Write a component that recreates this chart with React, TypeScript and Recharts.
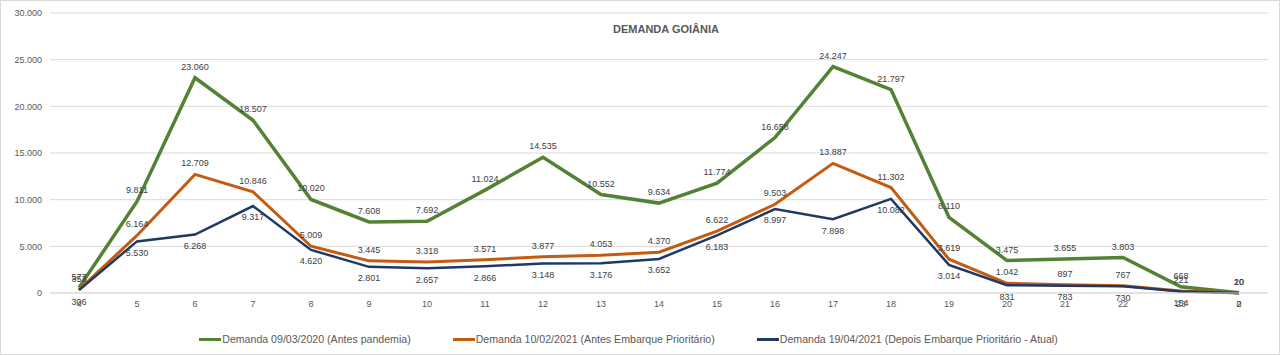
import React from 'react';
import { LineChart, Line, XAxis, YAxis, CartesianGrid, Legend, LabelList } from 'recharts';

const hours = ['4', '5', '6', '7', '8', '9', '10', '11', '12', '13', '14', '15', '16', '17', '18', '19', '20', '21', '22', '23', '0'];
const antesPandemia = [577, 9811, 23060, 18507, 10020, 7608, 7692, 11024, 14535, 10552, 9634, 11774, 16658, 24247, 21797, 8110, 3475, 3655, 3803, 668, 20];
const antesEmbarque = [353, 6164, 12709, 10846, 5009, 3445, 3318, 3571, 3877, 4053, 4370, 6622, 9503, 13887, 11302, 3619, 1042, 897, 767, 221, 10];
const depoisEmbarque = [306, 5530, 6268, 9317, 4620, 2801, 2657, 2866, 3148, 3176, 3652, 6183, 8997, 7898, 10082, 3014, 831, 783, 730, 154, 2];
const yTicks = [0, 5000, 10000, 15000, 20000, 25000, 30000];

const data = hours.map((h, i) => ({
  hora: h,
  a: antesPandemia[i],
  b: antesEmbarque[i],
  c: depoisEmbarque[i],
}));

const FONT = '"Liberation Sans", Arial, sans-serif';
const fmt = (v: any) => String(v).replace(/\B(?=(\d{3})+(?!\d))/g, '.');
const labelStyle = { fill: '#404040', fontSize: 9, fontFamily: FONT };

const LegendBox = (props: any) => (
  <div style={{ display: 'flex', justifyContent: 'center', gap: 42, fontFamily: FONT, fontSize: 10.6, color: '#595959', paddingRight: 12 }}>
    {props.payload.map((p: any) => (
      <div key={p.value} style={{ display: 'flex', alignItems: 'center' }}>
        <span style={{ display: 'inline-block', width: 22, height: 3, background: p.color, marginRight: 1 }} />
        <span>{p.value}</span>
      </div>
    ))}
  </div>
);

const App: React.FC = () => {
  return (
    <div style={{ position: 'absolute', top: 0, left: 0, width: 1278, height: 353, border: '1px solid #d9d9d9', background: '#fff' }}>
      <div style={{ position: 'absolute', top: 22, left: 0, width: 1330, textAlign: 'center', fontFamily: FONT, fontWeight: 'bold', fontSize: 11, color: '#595959' }}>
        DEMANDA GOIÂNIA
      </div>
      <LineChart width={1278} height={353} data={data} margin={{ top: 12, right: 11, left: 0, bottom: 19 }}>
        <CartesianGrid vertical={false} stroke="#d9d9d9" />
        <XAxis dataKey="hora" stroke="#d9d9d9" tickLine={false} height={30} padding={{ left: 29, right: 29 }}
          tick={{ fill: '#595959', fontSize: 9, fontFamily: FONT }} />
        <YAxis width={49} domain={[0, 30000]} ticks={yTicks} axisLine={false} tickLine={false}
          tickFormatter={fmt} tick={{ fill: '#595959', fontSize: 9, fontFamily: FONT }} />
        <Legend verticalAlign="bottom" content={LegendBox} wrapperStyle={{ bottom: 9 }} />
        <Line type="linear" dataKey="a" name="Demanda 09/03/2020 (Antes pandemia)" stroke="#548235" strokeWidth={3.5} dot={false} isAnimationActive={false}>
          <LabelList dataKey="a" position="top" offset={8} formatter={fmt} style={labelStyle} />
        </Line>
        <Line type="linear" dataKey="b" name="Demanda 10/02/2021 (Antes Embarque Prioritário)" stroke="#c55a11" strokeWidth={3} dot={false} isAnimationActive={false}>
          <LabelList dataKey="b" position="top" offset={8} formatter={fmt} style={labelStyle} />
        </Line>
        <Line type="linear" dataKey="c" name="Demanda 19/04/2021 (Depois Embarque Prioritário - Atual)" stroke="#1f3864" strokeWidth={2.5} dot={false} isAnimationActive={false}>
          <LabelList dataKey="c" position="bottom" offset={8} formatter={fmt} style={labelStyle} />
        </Line>
      </LineChart>
    </div>
  );
};

export default App;
